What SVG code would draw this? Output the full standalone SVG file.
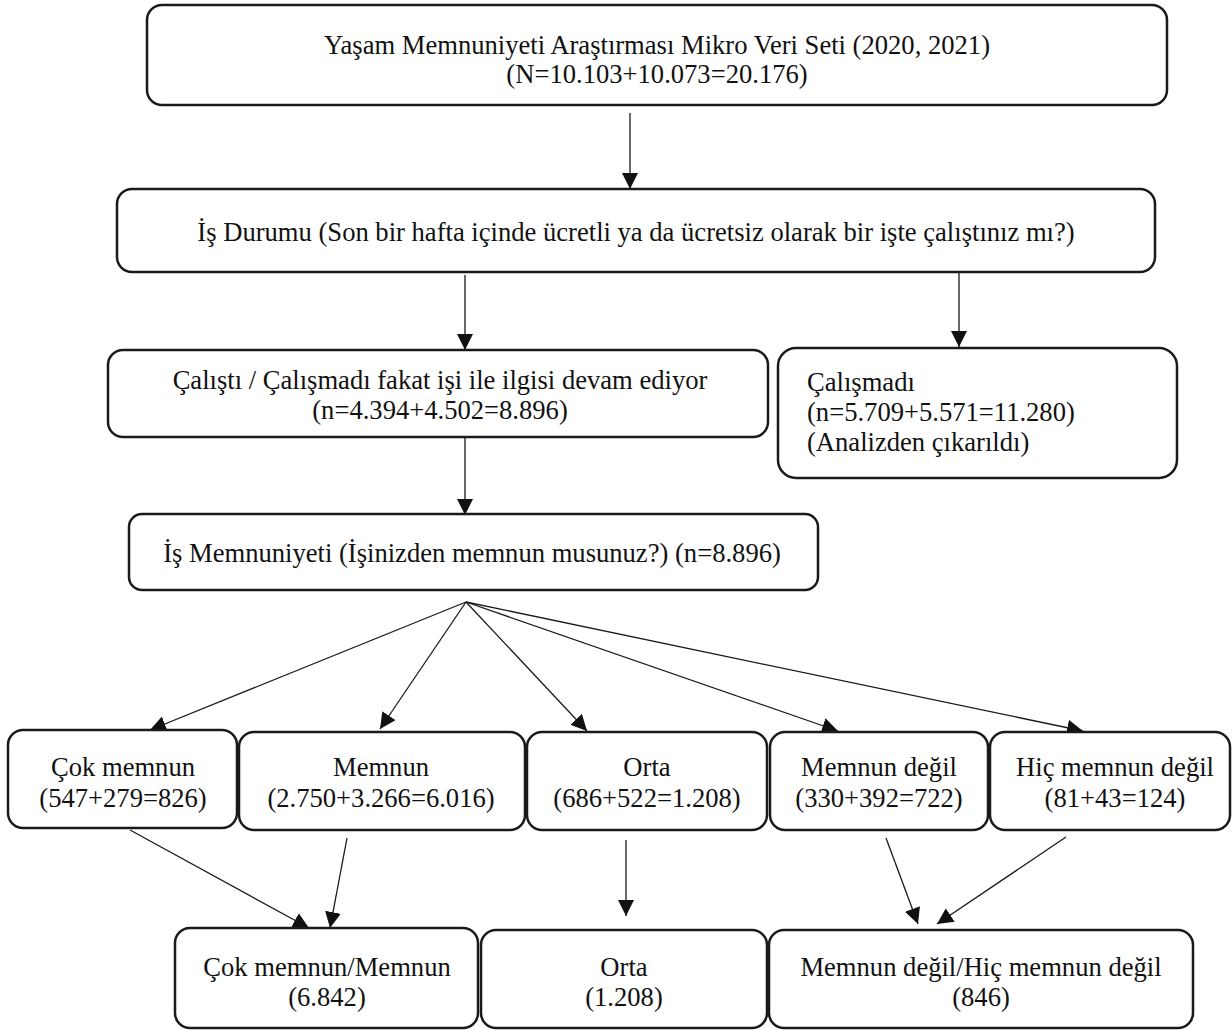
<svg xmlns="http://www.w3.org/2000/svg" width="1232" height="1030" viewBox="0 0 1232 1030" font-family="'Liberation Serif', 'Times New Roman', serif">
<style>
.box{fill:#fff;stroke:#1a1a1a;stroke-width:2.5}
text{font-family:'Liberation Serif','Times New Roman',serif;font-size:26.6px;fill:#111}
.c{text-anchor:middle}
.ln{stroke:#1a1a1a;stroke-width:1.3;fill:none;marker-end:url(#ah)}
</style>
<defs>
<marker id="ah" markerUnits="userSpaceOnUse" markerWidth="16" markerHeight="16" refX="15" refY="7.5" orient="auto" viewBox="0 0 15 15">
<path d="M0,0 L15,7.5 L0,15 z" fill="#111"/>
</marker>
</defs>
<rect width="1232" height="1030" fill="#fff"/>
<g id="connectors">
<line class="ln" x1="630" y1="113" x2="630" y2="189"/>
<line class="ln" x1="465" y1="275" x2="465" y2="350"/>
<line class="ln" x1="959" y1="270" x2="959" y2="347"/>
<line class="ln" x1="465" y1="438" x2="465" y2="515"/>
<line class="ln" x1="466" y1="602" x2="150" y2="730"/>
<line class="ln" x1="466" y1="602" x2="380" y2="729"/>
<line class="ln" x1="466" y1="602" x2="587" y2="731"/>
<line class="ln" x1="466" y1="602" x2="838" y2="731"/>
<line class="ln" x1="466" y1="602" x2="1083" y2="731"/>
<line class="ln" x1="130" y1="830" x2="309" y2="928"/>
<line class="ln" x1="347" y1="838" x2="330" y2="928"/>
<line class="ln" x1="626" y1="840" x2="626" y2="916"/>
<line class="ln" x1="886" y1="838" x2="918" y2="924"/>
<line class="ln" x1="1066" y1="837" x2="937" y2="924"/>
</g>
<g id="n1">
<rect class="box" x="147" y="5" width="1020" height="100" rx="15"/>
<text class="c" x="657" y="54">Yaşam Memnuniyeti Araştırması Mikro Veri Seti (2020, 2021)</text>
<text class="c" x="657" y="83">(N=10.103+10.073=20.176)</text>
</g>
<g id="n2">
<rect class="box" x="117" y="189" width="1038" height="83" rx="15"/>
<text class="c" x="636" y="241">İş Durumu (Son bir hafta içinde ücretli ya da ücretsiz olarak bir işte çalıştınız mı?)</text>
</g>
<g id="n3">
<rect class="box" x="108" y="350" width="660" height="87" rx="15"/>
<text class="c" x="440" y="389">Çalıştı / Çalışmadı fakat işi ile ilgisi devam ediyor</text>
<text class="c" x="440" y="419">(n=4.394+4.502=8.896)</text>
</g>
<g id="n4">
<rect class="box" x="778" y="348" width="399" height="130" rx="18"/>
<text x="807" y="391">Çalışmadı</text>
<text x="807" y="421">(n=5.709+5.571=11.280)</text>
<text x="807" y="451">(Analizden çıkarıldı)</text>
</g>
<g id="n5">
<rect class="box" x="129" y="514" width="689" height="76" rx="13"/>
<text class="c" x="472" y="562">İş Memnuniyeti (İşinizden memnun musunuz?) (n=8.896)</text>
</g>
<g id="n6">
<rect class="box" x="8" y="730" width="229" height="98" rx="15"/>
<text class="c" x="123" y="776">Çok memnun</text>
<text class="c" x="123" y="807">(547+279=826)</text>
</g>
<g id="n7">
<rect class="box" x="239" y="732" width="286" height="98" rx="15"/>
<text class="c" x="381" y="776">Memnun</text>
<text class="c" x="381" y="807">(2.750+3.266=6.016)</text>
</g>
<g id="n8">
<rect class="box" x="527" y="732" width="240" height="98" rx="15"/>
<text class="c" x="647" y="776">Orta</text>
<text class="c" x="647" y="807">(686+522=1.208)</text>
</g>
<g id="n9">
<rect class="box" x="770" y="732" width="218" height="98" rx="15"/>
<text class="c" x="879" y="776">Memnun değil</text>
<text class="c" x="879" y="807">(330+392=722)</text>
</g>
<g id="n10">
<rect class="box" x="990" y="732" width="240" height="98" rx="15"/>
<text class="c" x="1115" y="776">Hiç memnun değil</text>
<text class="c" x="1115" y="807">(81+43=124)</text>
</g>
<g id="n11">
<rect class="box" x="175" y="928" width="303" height="100" rx="15"/>
<text class="c" x="327" y="976">Çok memnun/Memnun</text>
<text class="c" x="327" y="1006">(6.842)</text>
</g>
<g id="n12">
<rect class="box" x="481" y="930" width="286" height="98" rx="15"/>
<text class="c" x="624" y="976">Orta</text>
<text class="c" x="624" y="1006">(1.208)</text>
</g>
<g id="n13">
<rect class="box" x="769" y="930" width="424" height="98" rx="15"/>
<text class="c" x="981" y="976">Memnun değil/Hiç memnun değil</text>
<text class="c" x="981" y="1006">(846)</text>
</g>
</svg>
